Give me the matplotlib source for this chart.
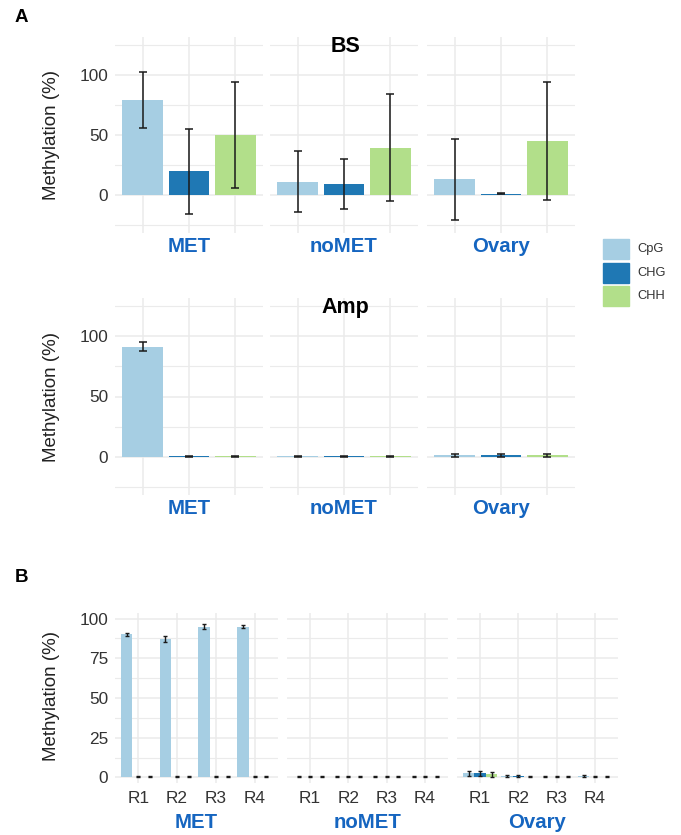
import numpy as np
import matplotlib
matplotlib.use("Agg")
import matplotlib.pyplot as plt
from matplotlib.patches import Rectangle

plt.rcParams['font.family'] = ['Liberation Sans', 'DejaVu Sans']

contexts = ['CpG', 'CHG', 'CHH']
colors = ['#A6CEE3', '#1F78B4', '#B2DF8A']
groups = ['MET', 'noMET', 'Ovary']
reps = ['R1', 'R2', 'R3', 'R4']

# panel A, BS: one row per group, values for CpG, CHG, CHH
bs_mean = [[79, 19.5, 50], [11, 9, 39.5], [13, 0.8, 45]]
bs_err = [[23.5, 35.7, 44], [25.5, 21, 44.5], [34, 0.4, 49.5]]

# panel A, Amp
amp_mean = [[91.5, 0.4, 0.4], [0.3, 0.4, 0.4], [1.0, 1.0, 1.0]]
amp_err = [[3.5, 0.4, 0.4], [0.3, 0.4, 0.4], [1.0, 1.0, 1.0]]

# panel B: per group, values for R1..R4
b_cpg = [[90, 87, 95, 95], [0.3, 0.3, 0.3, 0.3], [2.5, 1.0, 0.5, 1.0]]
b_cpg_err = [[1.2, 1.8, 1.5, 0.8], [0.3, 0.3, 0.3, 0.3], [1.5, 0.5, 0.3, 0.5]]
b_chg = [[0.4, 0.4, 0.4, 0.4], [0.4, 0.4, 0.4, 0.4], [2.5, 0.8, 0.4, 0.3]]
b_chg_err = [[0.3, 0.3, 0.3, 0.3], [0.3, 0.3, 0.3, 0.3], [1.5, 0.5, 0.3, 0.3]]
b_chh = [[0.4, 0.4, 0.4, 0.4], [0.4, 0.4, 0.4, 0.4], [2.0, 0.4, 0.4, 0.4]]
b_chh_err = [[0.3, 0.3, 0.3, 0.3], [0.3, 0.3, 0.3, 0.3], [1.5, 0.3, 0.3, 0.3]]

W, H = 681, 835
fig = plt.figure(figsize=(W / 100, H / 100), dpi=100)

def px_axes(x0, y0, x1, y1):
    return fig.add_axes([x0 / W, 1 - y1 / H, (x1 - x0) / W, (y1 - y0) / H])

def ftext(x, y, s, **kw):
    fig.text(x / W, 1 - y / H, s, **kw)

grid_col = '#EBEBEB'
tick_col = '#333333'
facet_col = '#1565C0'

def style(ax):
    for sp in ax.spines.values():
        sp.set_visible(False)
    ax.tick_params(length=0, labelsize=12.4, labelcolor=tick_col, pad=5)
    ax.grid(True, which='major', color=grid_col, lw=1.1)
    ax.grid(True, which='minor', axis='y', color=grid_col, lw=0.8)
    ax.set_axisbelow(True)

# ---- panel A ----
a_cols = [(115, 263), (270, 418), (427, 575)]
a_rows = [(37, 233, 'BS', bs_mean, bs_err, 247), (298, 495, 'Amp', amp_mean, amp_err, 508)]

for (y0, y1, title, means, errs, lab_y) in a_rows:
    for gi, (x0, x1) in enumerate(a_cols):
        ax = px_axes(x0, y0, x1, y1)
        xs = np.arange(3)
        ax.bar(xs, means[gi], width=0.88, color=colors, zorder=2)
        ax.errorbar(xs, means[gi], yerr=errs[gi], fmt='none', ecolor='#1a1a1a',
                    elinewidth=1.1, capsize=3, capthick=1.1, zorder=3)
        ax.set_xlim(-0.6, 2.6)
        ax.set_ylim(-32, 132)
        ax.set_xticks(xs)
        ax.set_xticklabels([])
        ax.set_yticks([0, 50, 100])
        ax.set_yticks([-25, 25, 75, 125], minor=True)
        style(ax)
        ax.tick_params(which='minor', length=0)
        if gi > 0:
            ax.set_yticklabels([])
        ftext((x0 + x1) / 2, lab_y, groups[gi], ha='center', va='center',
              fontsize=14.7, fontweight='bold', color=facet_col)
    ftext(345, y0 + 10, title, ha='center', va='center', fontsize=15.5, fontweight='bold')
    ftext(52, (y0 + y1) / 2, 'Methylation (%)', rotation=90, ha='center', va='center',
          fontsize=13.5, color='#222222')

# ---- panel B ----
b_cols = [(115, 278), (287, 448), (457, 618)]
by0, by1 = 613, 783
series = [(b_cpg, b_cpg_err), (b_chg, b_chg_err), (b_chh, b_chh_err)]
for gi, (x0, x1) in enumerate(b_cols):
    ax = px_axes(x0, by0, x1, by1)
    xs = np.arange(4)
    for si, (vals, errs) in enumerate(series):
        pos = xs + (si - 1) * 0.3
        ax.bar(pos, vals[gi], width=0.3, color=colors[si], zorder=2)
        ax.errorbar(pos, vals[gi], yerr=errs[gi], fmt='none', ecolor='#1a1a1a',
                    elinewidth=1.0, capsize=1.2, capthick=1.0, zorder=3)
    ax.set_xlim(-0.6, 3.6)
    ax.set_ylim(-3.5, 103.5)
    ax.set_xticks(xs)
    ax.set_xticklabels(reps)
    ax.set_yticks([0, 25, 50, 75, 100])
    ax.set_yticks([12.5, 37.5, 62.5, 87.5], minor=True)
    style(ax)
    ax.tick_params(which='minor', length=0)
    ax.tick_params(axis='x', pad=6)
    if gi > 0:
        ax.set_yticklabels([])
    ftext((x0 + x1) / 2, 823, groups[gi], ha='center', va='center',
          fontsize=14.7, fontweight='bold', color=facet_col)
ftext(52, 696, 'Methylation (%)', rotation=90, ha='center', va='center',
      fontsize=13.5, color='#222222')

# legend
for i, (c, lab) in enumerate(zip(contexts, colors)):
    yt = 239 + i * 23.5
    fig.patches.append(Rectangle((603 / W, 1 - (yt + 20) / H), 26 / W, 20 / H,
                                 transform=fig.transFigure, color=lab))
    ftext(637, yt + 10, c, ha='left', va='center', fontsize=9.3, color='#333333')

# panel letters
ftext(15, 18, 'A', ha='left', va='center', fontsize=13.5, fontweight='bold')
ftext(15, 578, 'B', ha='left', va='center', fontsize=13.5, fontweight='bold')

fig.savefig('out.png', dpi=100)
